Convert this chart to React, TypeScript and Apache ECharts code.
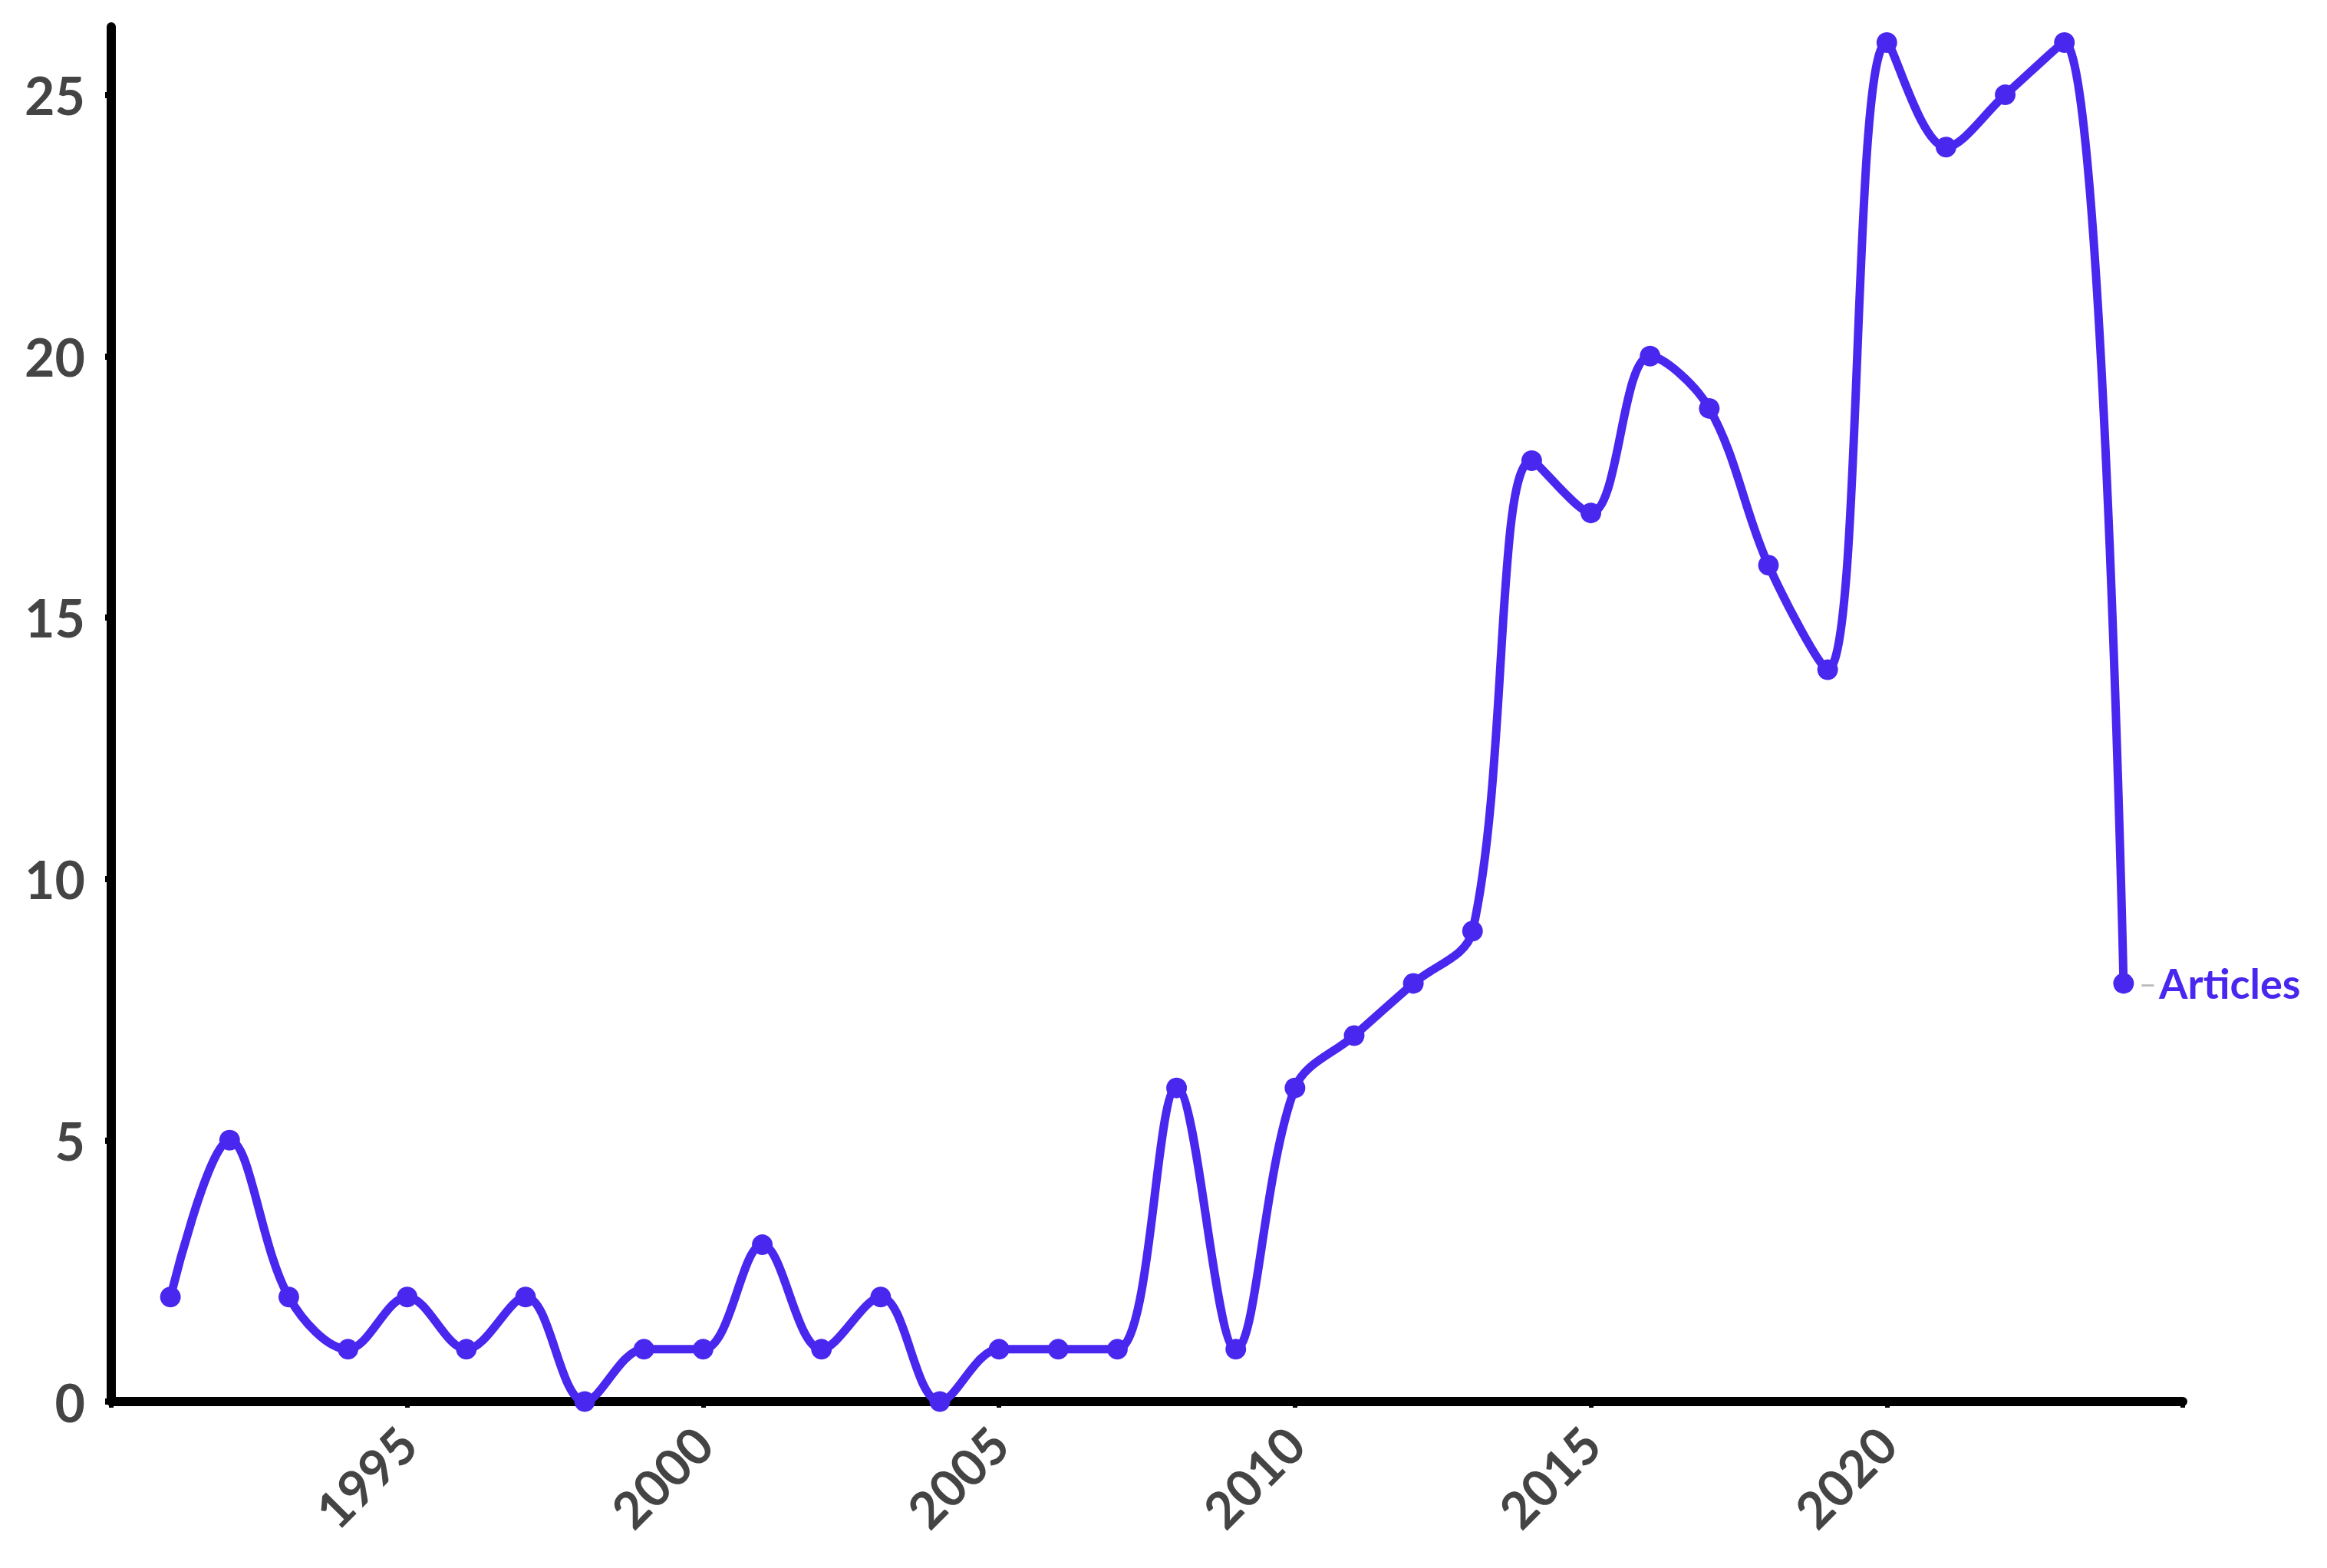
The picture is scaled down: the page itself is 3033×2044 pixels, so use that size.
import React, { useEffect, useRef } from "react";
import * as echarts from "echarts";

const years: number[] = [
  1991, 1992, 1993, 1994, 1995, 1996, 1997, 1998, 1999, 2000, 2001, 2002,
  2003, 2004, 2005, 2006, 2007, 2008, 2009, 2010, 2011, 2012, 2013, 2014,
  2015, 2016, 2017, 2018, 2019, 2020, 2021, 2022, 2023, 2024,
];
const articles: number[] = [
  2, 5, 2, 1, 2, 1, 2, 0, 1, 1, 3, 1, 2, 0, 1, 1, 1, 6, 1, 6, 7, 8, 9, 18, 17,
  20, 19, 16, 14, 26, 24, 25, 26, 8,
];
const seriesName = "Articles";
const xTickValues: number[] = [1990, 1995, 2000, 2005, 2010, 2015, 2020, 2025];
const xLabelValues: number[] = [1995, 2000, 2005, 2010, 2015, 2020];
const yTickValues: number[] = [0, 5, 10, 15, 20, 25];

const LINE_COLOR = "#4a27ef";
const FONT = "Lato, 'Open Sans', 'Noto Sans', sans-serif";

export default function App() {
  const ref = useRef<HTMLDivElement>(null);
  useEffect(() => {
    if (!ref.current) return;
    const chart = echarts.init(ref.current, undefined, { renderer: "svg" });
    const data = years.map((y, i) => [y, articles[i]]);
    chart.setOption({
      animation: false,
      backgroundColor: "#ffffff",
      textStyle: { fontFamily: FONT },
      grid: {
        left: 145,
        right: 188,
        top: 35,
        bottom: 217,
        containLabel: false,
        outerBoundsMode: "none",
      },
      xAxis: {
        type: "value",
        min: 1990,
        max: 2025,
        interval: 5,
        splitLine: { show: false },
        axisLine: { show: true, onZero: false, lineStyle: { color: "#000", width: 12 } },
        axisTick: {
          show: true,
          customValues: xTickValues,
          length: 8,
          lineStyle: { color: "#000", width: 6 },
        },
        axisLabel: {
          customValues: xLabelValues,
          rotate: 45,
          margin: 44,
          color: "#444",
          fontWeight: "bold",
          fontSize: 66,
          fontFamily: FONT,
          formatter: (v: number) => String(v),
        },
      },
      yAxis: {
        type: "value",
        min: 0,
        max: 26.3,
        splitLine: { show: false },
        axisLine: { show: true, lineStyle: { color: "#000", width: 12 } },
        axisTick: {
          show: true,
          customValues: yTickValues,
          length: 8,
          lineStyle: { color: "#000", width: 8 },
        },
        axisLabel: {
          customValues: yTickValues,
          margin: 34,
          color: "#444",
          fontWeight: "bold",
          fontSize: 68,
          fontFamily: FONT,
        },
      },
      series: [
        {
          name: seriesName,
          type: "line",
          data,
          smooth: 0.35,
          clip: false,
          symbol: "circle",
          symbolSize: 27,
          lineStyle: { color: LINE_COLOR, width: 11 },
          itemStyle: { color: LINE_COLOR },
          endLabel: {
            show: true,
            distance: 20,
            formatter: "{d|–} {a|" + seriesName + "}",
            rich: {
              d: { color: "#bbbbbb", fontSize: 40, fontFamily: FONT },
              a: {
                color: LINE_COLOR,
                fontSize: 54,
                fontWeight: "bold",
                fontFamily: FONT,
              },
            },
          },
        },
      ],
    });
    return () => chart.dispose();
  }, []);
  return (
    <div
      ref={ref}
      style={{ position: "fixed", left: 0, top: 0, width: 3033, height: 2044 }}
    />
  );
}
